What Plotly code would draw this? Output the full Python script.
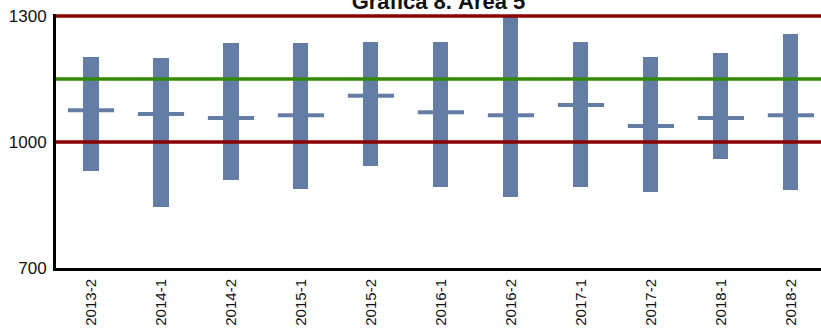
import plotly.graph_objects as go

periods = ["2013-2", "2014-1", "2014-2", "2015-1", "2015-2", "2016-1",
           "2016-2", "2017-1", "2017-2", "2018-1", "2018-2"]
min_vals = [931, 845, 909, 888, 943, 893, 869, 893, 881, 959, 886]
max_vals = [1202, 1200, 1236, 1236, 1238, 1238, 1300, 1238, 1202, 1212, 1257]
mean_vals = [1076, 1067, 1057, 1064, 1110, 1071, 1064, 1088, 1038, 1057, 1064]
ref_low = 1000
ref_high = 1300
ref_mid = 1150
y_ticks = [700, 1000, 1300]

bar_color = "#647da5"
font_family = "Liberation Sans, Arial, sans-serif"

fig = go.Figure()
fig.add_trace(go.Bar(
    x=periods,
    y=[hi - lo for hi, lo in zip(max_vals, min_vals)],
    base=min_vals,
    marker=dict(color=bar_color, line=dict(width=0)),
    width=0.215,
    hoverinfo="skip",
    showlegend=False,
))
fig.add_trace(go.Scatter(
    x=periods,
    y=mean_vals,
    mode="markers",
    marker=dict(symbol="line-ew", size=33,
                line=dict(color=bar_color, width=4)),
    hoverinfo="skip",
    showlegend=False,
))

for val, col in [(ref_low, "#8b0000"), (ref_high, "#8b0000"), (ref_mid, "#338a00")]:
    fig.add_shape(type="line", xref="paper", x0=0, x1=1, yref="y", y0=val, y1=val,
                  line=dict(color=col, width=3.5), layer="above")

fig.update_layout(
    width=821, height=328,
    margin=dict(l=56, r=0, t=14, b=60, autoexpand=False),
    paper_bgcolor="white", plot_bgcolor="white",
    font=dict(family=font_family, color="#111111"),
    title=dict(text="<b>Gráfica 8. Área 5</b>", x=0.5, xref="paper", xanchor="center",
               y=0.996, yref="container", yanchor="middle",
               font=dict(size=22, family=font_family, color="#111111")),
    bargap=0,
)
fig.update_xaxes(
    type="category", range=[-0.5, 10.43], automargin=False,
    showline=True, linecolor="black", linewidth=3,
    showgrid=False, ticks="", tickangle=-90, ticklabelstandoff=2,
    tickfont=dict(size=15, family=font_family, color="#111111"),
)
fig.update_yaxes(
    range=[700, 1305], tickvals=y_ticks, ticktext=[str(v) for v in y_ticks],
    automargin=False,
    showline=True, linecolor="black", linewidth=3,
    showgrid=False, zeroline=False, ticks="", ticklen=0, ticklabelstandoff=3,
    tickfont=dict(size=17, family=font_family, color="#111111"),
)

fig.write_html(
    "out.html",
    config={"displayModeBar": False},
    post_script="document.body.style.margin='0';document.body.style.overflow='hidden';",
)
